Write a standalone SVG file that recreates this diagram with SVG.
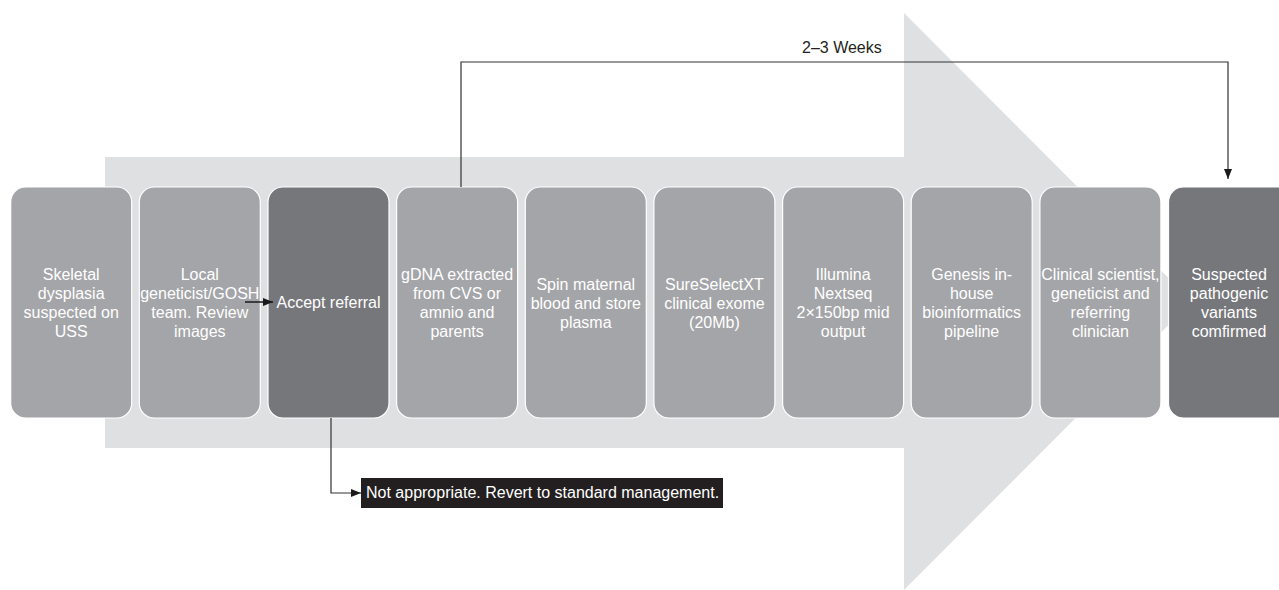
<svg xmlns="http://www.w3.org/2000/svg" width="1279" height="590" viewBox="0 0 1279 590">
<style>
.bg{fill:#ffffff}
.big{fill:#dfe0e2}
.nl{fill:#a4a5a8;stroke:#ffffff;stroke-width:1.2}
.nd{fill:#76777b;stroke:#ffffff;stroke-width:1.2}
.t{font-family:"Liberation Sans",Arial,sans-serif;font-size:16px;fill:#ffffff;text-anchor:middle}
.lbl{font-family:"Liberation Sans",Arial,sans-serif;font-size:16px;fill:#231f20}
.c{fill:none;stroke:#333333;stroke-width:1.2}
.c2{fill:none;stroke:#1a1a1a;stroke-width:1.5}
</style>
<defs>
<marker id="ah" viewBox="0 0 10 10" refX="10" refY="5" markerWidth="10" markerHeight="10" markerUnits="userSpaceOnUse" orient="auto">
<path d="M0,1 L10,5 L0,9 Z" fill="#1a1a1a"/>
</marker>
</defs>
<rect class="bg" x="0" y="0" width="1279" height="590"/>
<polygon class="big" points="105,157 904,157 904,13 1192,301.5 904,590 904,448 105,448"/>

<g id="n1"><rect class="nl" x="10.7" y="187" width="121" height="231" rx="15"/>
<text class="t" x="71.2" y="280">Skeletal</text><text class="t" x="71.2" y="299">dysplasia</text><text class="t" x="71.2" y="318">suspected on</text><text class="t" x="71.2" y="337">USS</text></g>
<g id="n2"><rect class="nl" x="139.3" y="187" width="121" height="231" rx="15"/>
<text class="t" x="199.8" y="280">Local</text><text class="t" x="199.8" y="299">geneticist/GOSH</text><text class="t" x="199.8" y="318">team. Review</text><text class="t" x="199.8" y="337">images</text></g>
<g id="n3"><rect class="nd" x="268" y="187" width="121" height="231" rx="15"/>
<text class="t" x="328.5" y="308">Accept referral</text></g>
<g id="n4"><rect class="nl" x="396.6" y="187" width="121" height="231" rx="15"/>
<text class="t" x="457.1" y="280">gDNA extracted</text><text class="t" x="457.1" y="299">from CVS or</text><text class="t" x="457.1" y="318">amnio and</text><text class="t" x="457.1" y="337">parents</text></g>
<g id="n5"><rect class="nl" x="525.3" y="187" width="121" height="231" rx="15"/>
<text class="t" x="585.8" y="290">Spin maternal</text><text class="t" x="585.8" y="309">blood and store</text><text class="t" x="585.8" y="328">plasma</text></g>
<g id="n6"><rect class="nl" x="653.9" y="187" width="121" height="231" rx="15"/>
<text class="t" x="714.4" y="290">SureSelectXT</text><text class="t" x="714.4" y="309">clinical exome</text><text class="t" x="714.4" y="328">(20Mb)</text></g>
<g id="n7"><rect class="nl" x="782.6" y="187" width="121" height="231" rx="15"/>
<text class="t" x="843.1" y="280">Illumina</text><text class="t" x="843.1" y="299">Nextseq</text><text class="t" x="843.1" y="318">2×150bp mid</text><text class="t" x="843.1" y="337">output</text></g>
<g id="n8"><rect class="nl" x="911.2" y="187" width="121" height="231" rx="15"/>
<text class="t" x="971.7" y="280">Genesis in-</text><text class="t" x="971.7" y="299">house</text><text class="t" x="971.7" y="318">bioinformatics</text><text class="t" x="971.7" y="337">pipeline</text></g>
<g id="n9"><rect class="nl" x="1039.9" y="187" width="121" height="231" rx="15"/>
<text class="t" x="1100.4" y="280">Clinical scientist,</text><text class="t" x="1100.4" y="299">geneticist and</text><text class="t" x="1100.4" y="318">referring</text><text class="t" x="1100.4" y="337">clinician</text></g>
<g id="n10"><rect class="nd" x="1168.5" y="187" width="125" height="231" rx="15"/>
<text class="t" x="1229" y="280">Suspected</text><text class="t" x="1229" y="299">pathogenic</text><text class="t" x="1229" y="318">variants</text><text class="t" x="1229" y="337">comfirmed</text></g>

<g id="na"><rect x="361" y="478" width="362" height="30" fill="#231f20"/>
<text x="366" y="498" font-family="Liberation Sans, Arial, sans-serif" font-size="16" fill="#ffffff">Not appropriate. Revert to standard management.</text></g>

<g id="connectors">
<line class="c2" x1="245" y1="302" x2="273" y2="302" marker-end="url(#ah)"/>
<polyline class="c" points="461,187 461,62 1228,62 1228,179" marker-end="url(#ah)"/>
<text class="lbl" x="802" y="53">2–3 Weeks</text>
<polyline class="c" points="331,418 331,493 361,493" marker-end="url(#ah)"/>
</g>
</svg>
